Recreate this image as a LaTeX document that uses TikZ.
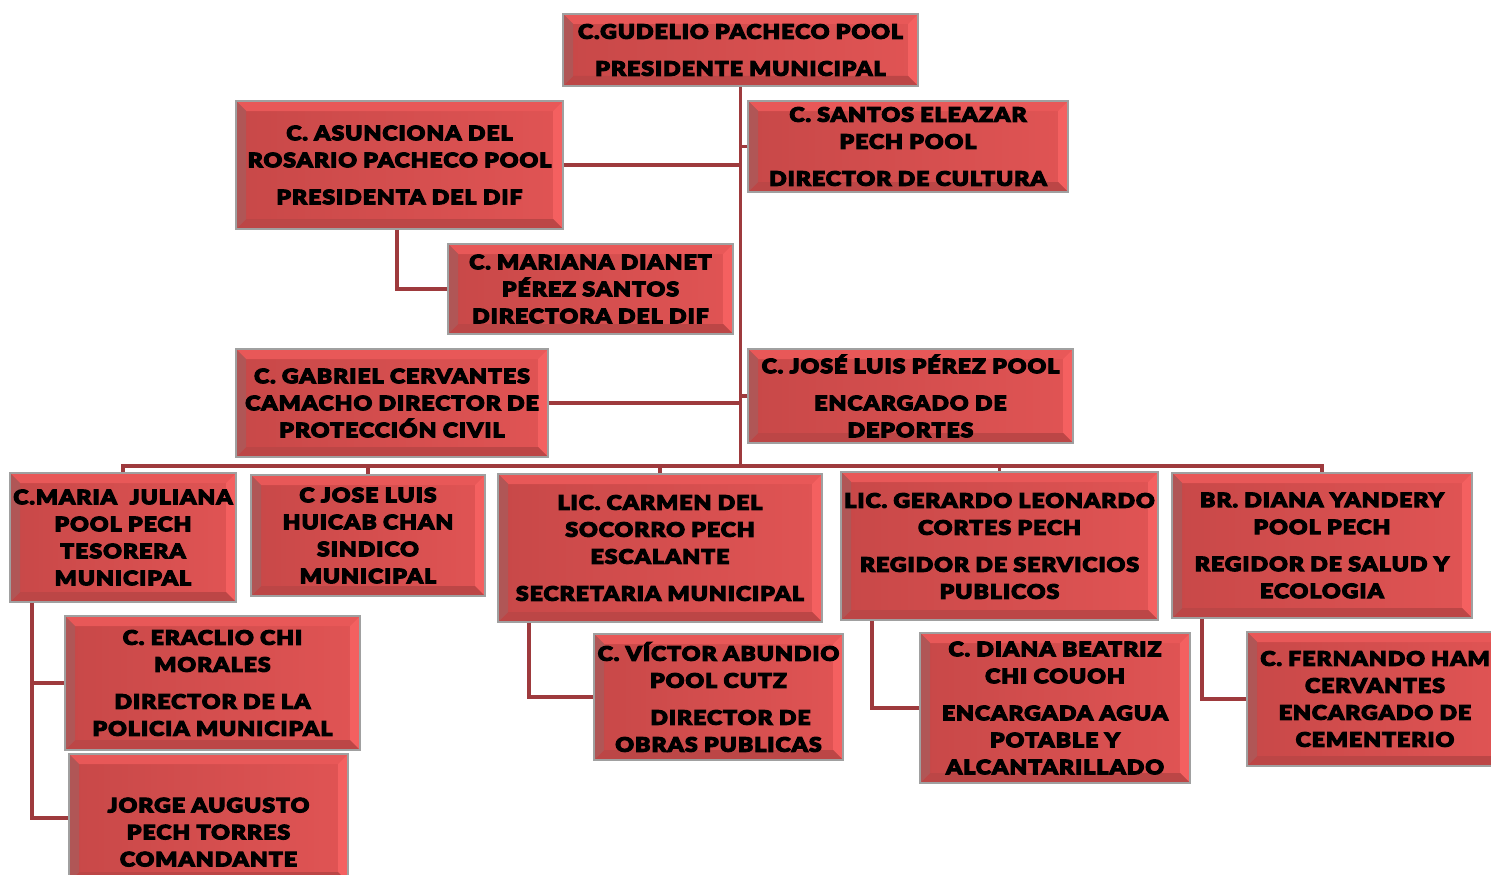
\documentclass[tikz,border=0pt]{standalone}
\usepackage{fontspec}
\setmainfont{DejaVu Sans}
\newfontfamily\bxfont{Lato Black}[FakeStretch=1.15,FakeBold=5,LetterSpace=5]
\usetikzlibrary{calc}
\definecolor{bxL}{RGB}{200,72,72}
\definecolor{bxR}{RGB}{224,84,84}
\definecolor{bvtop}{RGB}{232,88,88}
\definecolor{bvright}{RGB}{244,96,96}
\definecolor{bvbot}{RGB}{188,70,70}
\definecolor{bvleft}{RGB}{176,86,86}
\definecolor{bxborder}{RGB}{160,160,160}
\definecolor{conncol}{RGB}{158,58,61}
\newcommand\bv{10}
\newcommand\gp{10pt}
\tikzset{
  box/.style={rectangle, draw=bxborder, line width=1.6pt, left color=bxL, right color=bxR,
    inner sep=0pt, align=center, font=\bxfont\fontsize{20}{27}\selectfont,
    path picture={
      \coordinate (A) at (path picture bounding box.south west);
      \coordinate (B) at (path picture bounding box.north east);
      \coordinate (NW) at (A|-B);
      \coordinate (SE) at (B|-A);
      \fill[bvtop] (NW) -- (B) -- ($(B)+(-\bv,\bv)$) -- ($(NW)+(\bv,\bv)$) -- cycle;
      \fill[bvright] (B) -- (SE) -- ($(SE)+(-\bv,-\bv)$) -- ($(B)+(-\bv,\bv)$) -- cycle;
      \fill[bvbot] (SE) -- (A) -- ($(A)+(\bv,-\bv)$) -- ($(SE)+(-\bv,-\bv)$) -- cycle;
      \fill[bvleft] (A) -- (NW) -- ($(NW)+(\bv,\bv)$) -- ($(A)+(\bv,-\bv)$) -- cycle;
    }},
  conn/.style={draw=conncol, line width=3.8pt}
}
\newcommand\bx[6]{%
  \pgfmathsetmacro\cx{(#2+#4)/2}\pgfmathsetmacro\cy{(#3+#5)/2}%
  \pgfmathsetmacro\ww{#4-#2}\pgfmathsetmacro\hh{#5-#3}%
  \node[box, minimum width=\ww pt, minimum height=\hh pt] (#1) at (\cx,\cy) {#6};}
\begin{document}
\begin{tikzpicture}[x=1pt,y=-1pt]
\useasboundingbox (0,0) rectangle (1491,875);
\clip (0,0) rectangle (1491,875);
\fill[white] (0,0) rectangle (1491,875);
\coordinate (bus) at (741,466);
\bx{pres}{563}{14}{918}{86}{C.GUDELIO PACHECO POOL\\[\gp]PRESIDENTE MUNICIPAL}
\bx{santos}{748}{101}{1068}{192}{C. SANTOS ELEAZAR\\PECH POOL\\[\gp]DIRECTOR DE CULTURA}
\bx{asun}{236}{101}{563}{229}{C. ASUNCIONA DEL\\ROSARIO PACHECO POOL\\[\gp]PRESIDENTA DEL DIF}
\bx{mar}{448}{244}{733}{334}{C. MARIANA DIANET\\PÉREZ SANTOS\\DIRECTORA DEL DIF}
\bx{gab}{236}{349}{548}{457}{C. GABRIEL CERVANTES\\CAMACHO DIRECTOR DE\\PROTECCIÓN CIVIL}
\bx{jlp}{748}{349}{1073}{443}{C. JOSÉ LUIS PÉREZ POOL\\[\gp]ENCARGADO DE\\DEPORTES}
\bx{mj}{10}{473}{236}{602}{C.MARIA\ \ JULIANA\\POOL PECH\\TESORERA\\MUNICIPAL}
\bx{hc}{251}{475}{485}{596}{C JOSE LUIS\\HUICAB CHAN\\SINDICO\\MUNICIPAL}
\bx{cm}{498}{474}{822}{622}{LIC. CARMEN DEL\\SOCORRO PECH\\ESCALANTE\\[\gp]SECRETARIA MUNICIPAL}
\bx{gl}{841}{472}{1158}{620}{LIC. GERARDO LEONARDO\\CORTES PECH\\[\gp]REGIDOR DE SERVICIOS\\PUBLICOS}
\bx{dy}{1172}{473}{1472}{618}{BR. DIANA YANDERY\\POOL PECH\\[\gp]REGIDOR DE SALUD Y\\ECOLOGIA}
\bx{er}{65}{616}{360}{750}{C. ERACLIO CHI\\MORALES\\[\gp]DIRECTOR DE LA\\POLICIA MUNICIPAL}
\bx{jg}{69}{754}{348}{882}{\mbox{}\\[16pt]JORGE AUGUSTO\\PECH TORRES\\COMANDANTE}
\bx{vic}{594}{634}{843}{760}{C. VÍCTOR ABUNDIO\\POOL CUTZ\\[\gp]\hspace*{24pt}DIRECTOR DE\\OBRAS PUBLICAS}
\bx{db}{920}{633}{1190}{783}{C. DIANA BEATRIZ\\CHI COUOH\\[\gp]ENCARGADA AGUA\\POTABLE Y\\ALCANTARILLADO}
\bx{fh}{1247}{632}{1503}{766}{C. FERNANDO HAM\\CERVANTES\\ENCARGADO DE\\CEMENTERIO}
% connectors
\draw[conn] (pres.south) -- (pres.south |- bus);
\draw[conn] (asun.east) -- (asun.east -| pres.south);
\draw[conn] (santos.west) -- (santos.west -| pres.south);
\draw[conn] (gab.east) -- (gab.east -| pres.south);
\draw[conn] (jlp.west) -- (jlp.west -| pres.south);
\draw[conn] (mj.north) -- (mj.north |- bus) -- (dy.north |- bus) -- (dy.north);
\draw[conn] (hc.north) -- (hc.north |- bus);
\draw[conn] (cm.north) -- (cm.north |- bus);
\draw[conn] (gl.north) -- (gl.north |- bus);
\draw[conn] ($(asun.south west)+(162,0)$) |- (mar.west);
\draw[conn] ($(mj.south west)+(23,0)$) |- (er.west);
\draw[conn] ($(mj.south west)+(23,0)$) |- (jg.west);
\draw[conn] ($(cm.south west)+(32,0)$) |- (vic.west);
\draw[conn] ($(gl.south west)+(32,0)$) |- (db.west);
\draw[conn] ($(dy.south west)+(31,0)$) |- (fh.west);
\end{tikzpicture}
\end{document}
